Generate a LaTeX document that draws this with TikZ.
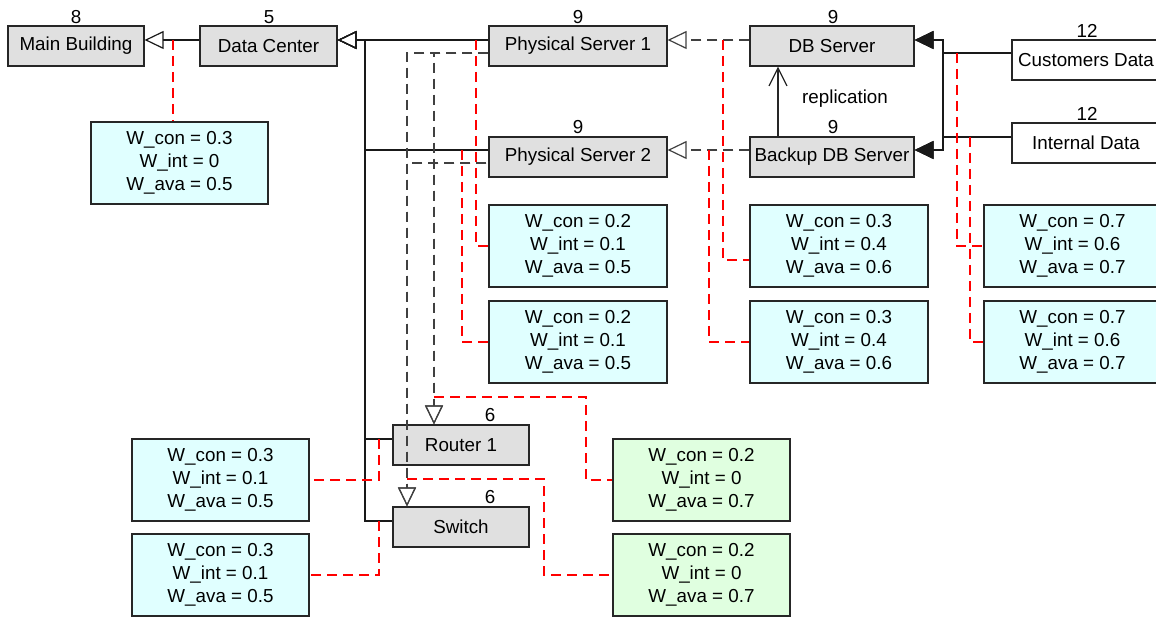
\documentclass[tikz,border=0pt]{standalone}
\usepackage{fontspec}
\setmainfont{Liberation Sans}
\usetikzlibrary{arrows.meta}
\definecolor{boxgray}{HTML}{E0E0E0}
\definecolor{wcyan}{HTML}{E0FFFF}
\definecolor{wgreen}{HTML}{E0FFE0}
\definecolor{linkred}{HTML}{FF0000}
\tikzset{
  every node/.style={font=\fontsize{18.8}{23}\selectfont},
  box/.style={draw=black!85, line width=1.2pt, inner sep=0pt, align=center},
  cls/.style={box, fill=boxgray, minimum height=40pt},
  plainbox/.style={box, fill=white, minimum height=40pt},
  wbox/.style={box, minimum width=177pt, minimum height=82pt},
  num/.style={anchor=base, inner sep=0pt},
  gen/.style={draw=black!90, line width=1.2pt, -{Triangle[open, length=19pt, width=18pt]}},
  gend/.style={gen, draw=black!75, dash pattern=on 10pt off 6pt},
  comp/.style={draw=black!90, line width=1.2pt, -{Triangle[length=19pt, width=18pt]}},
  repl/.style={draw=black!85, line width=1.2pt, -{Straight Barb[length=18pt, width=18pt]}},
  link/.style={draw=linkred, line width=1.2pt, dash pattern=on 10pt off 6pt}
}
\begin{document}
\begin{tikzpicture}[x=1pt,y=-1pt]
\path[use as bounding box] (0,0) rectangle (1156,617);
\clip (0,0) rectangle (1156,617);

% helper coordinates
\coordinate (y40) at (0,40);
\coordinate (y53) at (0,53);
\coordinate (y137) at (0,137);
\coordinate (y150) at (0,150);
\coordinate (y163) at (0,163);
\coordinate (y260) at (0,260);
\coordinate (y439) at (0,439);
\coordinate (y521) at (0,521);
\coordinate (tr) at (365,0);
\coordinate (xr) at (434,0);
\coordinate (xs) at (407,0);
\coordinate (xd) at (943,0);
\coordinate (xrep) at (778,0);
\coordinate (b9) at (586,0);
\coordinate (b10) at (544,0);

% class boxes
\node[cls, minimum width=136pt] (mb) at (76,46) {Main Building};
\node[cls, minimum width=137pt] (dc) at (268.5,46) {Data Center};
\node[cls, minimum width=178pt] (ps1) at (578,46) {Physical Server 1};
\node[cls, minimum width=178pt] (ps2) at (578,157) {Physical Server 2};
\node[cls, minimum width=164pt] (db) at (832,46) {DB Server};
\node[cls, minimum width=164pt] (bdb) at (832,157) {Backup DB Server};
\node[plainbox, minimum width=148pt] (cd) at (1086,60) {Customers Data};
\node[plainbox, minimum width=148pt] (id) at (1086,143) {Internal Data};
\node[cls, minimum width=136pt] (r1) at (461,445) {Router 1};
\node[cls, minimum width=136pt] (sw) at (461,527) {Switch};

% numbers
\node[num] (nmb) at (76,23.5) {8};
\node[num] (ndc) at (269,23.5) {5};
\node[num] (nps1) at (578,23.5) {9};
\node[num] (nps2) at (578,134) {9};
\node[num] (ndb) at (833,23.5) {9};
\node[num] (nbdb) at (833,134) {9};
\node[num] (ncd) at (1087,37.3) {12};
\node[num] (nid) at (1087,120.5) {12};
\node[num] (nr1) at (490,421) {6};
\node[num] (nsw) at (490,503) {6};

% weight boxes
\node[wbox, fill=wcyan] (w0) at (179.5,163) {W\_con = 0.3\\W\_int = 0\\W\_ava = 0.5};
\node[wbox, fill=wcyan, minimum width=178pt] (w1) at (578,246) {W\_con = 0.2\\W\_int = 0.1\\W\_ava = 0.5};
\node[wbox, fill=wcyan, minimum width=178pt] (w2) at (578,342) {W\_con = 0.2\\W\_int = 0.1\\W\_ava = 0.5};
\node[wbox, fill=wcyan, minimum width=178pt] (w3) at (839,246) {W\_con = 0.3\\W\_int = 0.4\\W\_ava = 0.6};
\node[wbox, fill=wcyan, minimum width=178pt] (w4) at (839,342) {W\_con = 0.3\\W\_int = 0.4\\W\_ava = 0.6};
\node[wbox, fill=wcyan] (w5) at (1072.5,246) {W\_con = 0.7\\W\_int = 0.6\\W\_ava = 0.7};
\node[wbox, fill=wcyan] (w6) at (1072.5,342) {W\_con = 0.7\\W\_int = 0.6\\W\_ava = 0.7};
\node[wbox, fill=wcyan] (w7) at (220.5,480) {W\_con = 0.3\\W\_int = 0.1\\W\_ava = 0.5};
\node[wbox, fill=wcyan] (w8) at (220.5,575) {W\_con = 0.3\\W\_int = 0.1\\W\_ava = 0.5};
\node[wbox, fill=wgreen] (g1) at (701.5,480) {W\_con = 0.2\\W\_int = 0\\W\_ava = 0.7};
\node[wbox, fill=wgreen] (g2) at (701.5,575) {W\_con = 0.2\\W\_int = 0\\W\_ava = 0.7};

% generalisations (solid)
\draw[gen] (dc.west|-y40) -- (mb.east|-y40);
\draw[gen] (ps1.west|-y40) -- (dc.east|-y40);
\draw[gen] (ps2.west|-y150) -- (tr|-y150) -- (tr|-y40) -- (dc.east|-y40);
\draw[gen] (r1.west|-y439) -- (tr|-y439) -- (tr|-y40) -- (dc.east|-y40);
\draw[gen] (sw.west|-y521) -- (tr|-y521) -- (tr|-y40) -- (dc.east|-y40);

% dashed realisations
\draw[gend] (db.west|-y40) -- (ps1.east|-y40);
\draw[gend] (bdb.west|-y150) -- (ps2.east|-y150);
\draw[gend] (ps1.west|-y53) -- (xr|-y53) -- (r1.north-|xr);
\draw[gend] (ps1.west|-y53) -- (xs|-y53) -- (sw.north-|xs);
\draw[gend, dash phase=14pt] (ps2.west|-y163) -- (xr|-y163) -- (r1.north-|xr);
\draw[gend, dash phase=14pt] (ps2.west|-y163) -- (xs|-y163) -- (sw.north-|xs);

% replication
\draw[repl] (bdb.north-|xrep) -- (db.south-|xrep);
\node[anchor=base, inner sep=0pt] (repl) at (845,104) {replication};

% data to DB servers
\draw[comp] (cd.west|-y53) -- (xd|-y53) -- (xd|-y40) -- (db.east|-y40);
\draw[comp] (cd.west|-y53) -- (xd|-y53) -- (xd|-y150) -- (bdb.east|-y150);
\draw[comp] (id.west|-y137) -- (xd|-y137) -- (xd|-y40) -- (db.east|-y40);
\draw[comp] (id.west|-y137) -- (xd|-y137) -- (xd|-y150) -- (bdb.east|-y150);

% red association links
\coordinate (a0) at (173,40);
\coordinate (a1) at (476,40);
\coordinate (a2) at (462,150);
\coordinate (a3) at (723,40);
\coordinate (a4) at (709,150);
\coordinate (a5) at (957,53);
\coordinate (a6) at (970,137);
\coordinate (a7) at (379,439);
\coordinate (a8) at (379,521);
\coordinate (a9) at (434,397);
\coordinate (a10) at (407,479);
\draw[link] (a0) -- (a0|-w0.north);
\draw[link] (a1) |- (w1.west);
\draw[link] (a2) |- (w2.west);
\draw[link] (a3) |- (w3.west|-y260);
\draw[link] (a4) |- (w4.west);
\draw[link] (a5) |- (w5.west);
\draw[link] (a6) |- (w6.west);
\draw[link] (a7) |- (w7.east);
\draw[link] (a8) |- (w8.east);
\draw[link] (a9) -- (a9-|b9) |- (g1.west);
\draw[link] (a10) -- (a10-|b10) |- (g2.west);
\end{tikzpicture}
\end{document}
